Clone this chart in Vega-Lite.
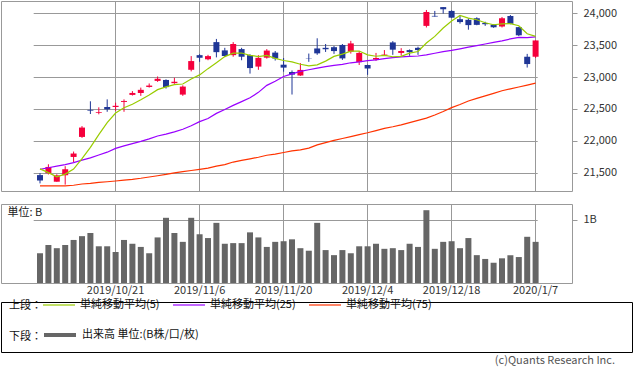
{
  "$schema": "https://vega.github.io/schema/vega-lite/v6.json",
  "padding": 0,
  "background": "white",
  "config": {
    "font": "Noto Sans CJK JP",
    "view": {"stroke": "#999999", "strokeWidth": 1},
    "axis": {"labelFont": "Noto Sans CJK JP", "labelColor": "#333333", "labelFontSize": 11, "gridColor": "#999999", "gridOpacity": 1, "gridWidth": 1, "domain": false, "ticks": false, "title": null},
    "legend": {"labelFont": "Noto Sans CJK JP", "labelFontSize": 11, "labelColor": "#111111", "titleFont": "Noto Sans CJK JP", "titleFontSize": 11, "titleFontWeight": "normal", "titleColor": "#111111", "padding": 0}
  },
  "data": {"values": [
    {"date":"2019/10/7","open":21460,"high":21490,"low":21330,"close":21375,"ma5":21558,"ma25":21551,"ma75":21290,"vol":0.47},
    {"date":"2019/10/8","open":21490,"high":21630,"low":21470,"close":21588,"ma5":21499,"ma25":21575,"ma75":21290,"vol":0.60},
    {"date":"2019/10/9","open":21356,"high":21472,"low":21356,"close":21456,"ma5":21434,"ma25":21600,"ma75":21290,"vol":0.55},
    {"date":"2019/10/10","open":21457,"high":21600,"low":21310,"close":21552,"ma5":21476,"ma25":21625,"ma75":21292,"vol":0.60},
    {"date":"2019/10/11","open":21745,"high":21830,"low":21665,"close":21799,"ma5":21554,"ma25":21655,"ma75":21300,"vol":0.68},
    {"date":"2019/10/15","open":22060,"high":22230,"low":22045,"close":22207,"ma5":21720,"ma25":21695,"ma75":21320,"vol":0.74},
    {"date":"2019/10/16","open":22485,"high":22620,"low":22420,"close":22473,"ma5":21897,"ma25":21730,"ma75":21330,"vol":0.79},
    {"date":"2019/10/17","open":22440,"high":22525,"low":22415,"close":22452,"ma5":22097,"ma25":21775,"ma75":21345,"vol":0.58},
    {"date":"2019/10/18","open":22530,"high":22650,"low":22455,"close":22493,"ma5":22285,"ma25":21820,"ma75":21355,"vol":0.58},
    {"date":"2019/10/21","open":22530,"high":22598,"low":22470,"close":22549,"ma5":22435,"ma25":21880,"ma75":21367,"vol":0.49},
    {"date":"2019/10/23","open":22610,"high":22650,"low":22455,"close":22625,"ma5":22518,"ma25":21920,"ma75":21380,"vol":0.68},
    {"date":"2019/10/24","open":22720,"high":22780,"low":22710,"close":22751,"ma5":22574,"ma25":21955,"ma75":21393,"vol":0.62},
    {"date":"2019/10/25","open":22750,"high":22835,"low":22705,"close":22800,"ma5":22644,"ma25":21990,"ma75":21410,"vol":0.57},
    {"date":"2019/10/28","open":22845,"high":22900,"low":22835,"close":22867,"ma5":22718,"ma25":22030,"ma75":21430,"vol":0.47},
    {"date":"2019/10/29","open":22940,"high":23010,"low":22925,"close":22974,"ma5":22803,"ma25":22075,"ma75":21450,"vol":0.72},
    {"date":"2019/10/30","open":22955,"high":22965,"low":22820,"close":22843,"ma5":22847,"ma25":22105,"ma75":21470,"vol":1.03},
    {"date":"2019/10/31","open":22905,"high":22990,"low":22895,"close":22927,"ma5":22882,"ma25":22140,"ma75":21495,"vol":0.79},
    {"date":"2019/11/1","open":22725,"high":22870,"low":22705,"close":22851,"ma5":22892,"ma25":22180,"ma75":21515,"vol":0.65},
    {"date":"2019/11/5","open":23115,"high":23330,"low":23090,"close":23252,"ma5":22969,"ma25":22235,"ma75":21532,"vol":1.03},
    {"date":"2019/11/6","open":23345,"high":23360,"low":23240,"close":23304,"ma5":23035,"ma25":22300,"ma75":21550,"vol":0.77},
    {"date":"2019/11/7","open":23280,"high":23350,"low":23265,"close":23330,"ma5":23133,"ma25":22350,"ma75":21570,"vol":0.71},
    {"date":"2019/11/8","open":23550,"high":23600,"low":23310,"close":23392,"ma5":23226,"ma25":22430,"ma75":21600,"vol":0.95},
    {"date":"2019/11/11","open":23420,"high":23460,"low":23315,"close":23332,"ma5":23322,"ma25":22490,"ma75":21625,"vol":0.62},
    {"date":"2019/11/12","open":23345,"high":23550,"low":23320,"close":23520,"ma5":23376,"ma25":22555,"ma75":21665,"vol":0.63},
    {"date":"2019/11/13","open":23440,"high":23460,"low":23265,"close":23320,"ma5":23379,"ma25":22615,"ma75":21690,"vol":0.63},
    {"date":"2019/11/14","open":23345,"high":23360,"low":23055,"close":23142,"ma5":23341,"ma25":22675,"ma75":21715,"vol":0.80},
    {"date":"2019/11/15","open":23165,"high":23345,"low":23115,"close":23303,"ma5":23323,"ma25":22760,"ma75":21740,"vol":0.72},
    {"date":"2019/11/18","open":23305,"high":23440,"low":23290,"close":23417,"ma5":23340,"ma25":22870,"ma75":21772,"vol":0.57},
    {"date":"2019/11/19","open":23385,"high":23410,"low":23260,"close":23293,"ma5":23295,"ma25":22935,"ma75":21790,"vol":0.65},
    {"date":"2019/11/20","open":23195,"high":23300,"low":23085,"close":23149,"ma5":23261,"ma25":23010,"ma75":21815,"vol":0.66},
    {"date":"2019/11/21","open":23080,"high":23105,"low":22726,"close":23039,"ma5":23240,"ma25":23050,"ma75":21840,"vol":0.69},
    {"date":"2019/11/22","open":23025,"high":23220,"low":23020,"close":23113,"ma5":23202,"ma25":23090,"ma75":21855,"vol":0.55},
    {"date":"2019/11/25","open":23298,"high":23370,"low":23240,"close":23293,"ma5":23177,"ma25":23115,"ma75":21885,"vol":0.51},
    {"date":"2019/11/26","open":23450,"high":23610,"low":23350,"close":23373,"ma5":23193,"ma25":23140,"ma75":21935,"vol":0.95},
    {"date":"2019/11/27","open":23460,"high":23520,"low":23395,"close":23438,"ma5":23251,"ma25":23165,"ma75":21970,"vol":0.52},
    {"date":"2019/11/28","open":23470,"high":23490,"low":23365,"close":23409,"ma5":23325,"ma25":23185,"ma75":22005,"vol":0.44},
    {"date":"2019/11/29","open":23505,"high":23520,"low":23270,"close":23294,"ma5":23361,"ma25":23200,"ma75":22035,"vol":0.52},
    {"date":"2019/12/2","open":23400,"high":23570,"low":23370,"close":23530,"ma5":23409,"ma25":23225,"ma75":22065,"vol":0.47},
    {"date":"2019/12/3","open":23235,"high":23410,"low":23190,"close":23380,"ma5":23410,"ma25":23240,"ma75":22095,"vol":0.58},
    {"date":"2019/12/4","open":23190,"high":23195,"low":23035,"close":23135,"ma5":23350,"ma25":23258,"ma75":22125,"vol":0.58},
    {"date":"2019/12/5","open":23275,"high":23380,"low":23255,"close":23300,"ma5":23328,"ma25":23272,"ma75":22160,"vol":0.62},
    {"date":"2019/12/6","open":23338,"high":23425,"low":23332,"close":23354,"ma5":23340,"ma25":23290,"ma75":22195,"vol":0.54},
    {"date":"2019/12/9","open":23545,"high":23565,"low":23350,"close":23431,"ma5":23320,"ma25":23305,"ma75":22220,"vol":0.55},
    {"date":"2019/12/10","open":23380,"high":23455,"low":23335,"close":23410,"ma5":23326,"ma25":23318,"ma75":22250,"vol":0.52},
    {"date":"2019/12/11","open":23425,"high":23435,"low":23335,"close":23392,"ma5":23377,"ma25":23325,"ma75":22285,"vol":0.62},
    {"date":"2019/12/12","open":23460,"high":23478,"low":23350,"close":23425,"ma5":23402,"ma25":23332,"ma75":22320,"vol":0.57},
    {"date":"2019/12/13","open":23805,"high":24055,"low":23780,"close":24023,"ma5":23536,"ma25":23350,"ma75":22355,"vol":1.15},
    {"date":"2019/12/16","open":23962,"high":24040,"low":23950,"close":23952,"ma5":23640,"ma25":23375,"ma75":22405,"vol":0.54},
    {"date":"2019/12/17","open":24100,"high":24100,"low":23998,"close":24066,"ma5":23772,"ma25":23400,"ma75":22460,"vol":0.65},
    {"date":"2019/12/18","open":24040,"high":24050,"low":23930,"close":23934,"ma5":23880,"ma25":23420,"ma75":22520,"vol":0.66},
    {"date":"2019/12/19","open":23910,"high":23960,"low":23840,"close":23865,"ma5":23968,"ma25":23445,"ma75":22570,"vol":0.55},
    {"date":"2019/12/20","open":23900,"high":23925,"low":23745,"close":23817,"ma5":23927,"ma25":23470,"ma75":22625,"vol":0.71},
    {"date":"2019/12/23","open":23925,"high":23940,"low":23815,"close":23821,"ma5":23901,"ma25":23495,"ma75":22665,"vol":0.44},
    {"date":"2019/12/24","open":23850,"high":23870,"low":23805,"close":23831,"ma5":23854,"ma25":23520,"ma75":22705,"vol":0.38},
    {"date":"2019/12/25","open":23825,"high":23828,"low":23775,"close":23783,"ma5":23823,"ma25":23545,"ma75":22745,"vol":0.32},
    {"date":"2019/12/26","open":23795,"high":23945,"low":23780,"close":23925,"ma5":23835,"ma25":23570,"ma75":22785,"vol":0.39},
    {"date":"2019/12/27","open":23960,"high":23975,"low":23830,"close":23838,"ma5":23840,"ma25":23600,"ma75":22815,"vol":0.44},
    {"date":"2019/12/30","open":23785,"high":23790,"low":23645,"close":23657,"ma5":23807,"ma25":23625,"ma75":22845,"vol":0.41},
    {"date":"2020/1/6","open":23320,"high":23365,"low":23150,"close":23205,"ma5":23682,"ma25":23620,"ma75":22875,"vol":0.73},
    {"date":"2020/1/7","open":23320,"high":23578,"low":23300,"close":23576,"ma5":23640,"ma25":23632,"ma75":22905,"vol":0.65}
  ]},
  "spacing": 5,
  "vconcat": [
    {
      "spacing": 11,
      "resolve": {"scale": {"x": "independent", "y": "independent"}, "axis": {"x": "independent", "y": "independent"}},
      "vconcat": [
        {
          "width": 571,
          "height": 190,
          "encoding": {
            "x": {"field": "date", "type": "ordinal", "sort": null, "scale": {"type": "band", "paddingInner": 0, "paddingOuter": 0, "range": [34.8, 538.8]},
                  "axis": {"values": ["2019/10/21","2019/11/6","2019/11/20","2019/12/4","2019/12/18","2020/1/7"], "labels": false, "grid": true, "ticks": false, "domain": false, "title": null}}
          },
          "layer": [
            {
              "mark": {"type": "rule", "strokeWidth": 1},
              "encoding": {
                "y": {"field": "low", "type": "quantitative", "scale": {"domain": [21210, 24196], "nice": false, "zero": false},
                      "axis": {"orient": "right", "values": [21500, 22000, 22500, 23000, 23500, 24000], "tickCount": 20, "labelExpr": "format(datum.value, ',')", "labelOverlap": false, "grid": true, "ticks": true, "tickSize": 5, "tickColor": "#999999", "labelPadding": 6, "title": null}},
                "y2": {"field": "high"},
                "color": {"condition": {"test": "datum.close >= datum.open", "value": "#f5003c"}, "value": "#1f3696"}
              }
            },
            {
              "mark": {"type": "bar", "size": 6},
              "encoding": {
                "y": {"field": "open", "type": "quantitative"},
                "y2": {"field": "close"},
                "color": {"condition": {"test": "datum.close >= datum.open", "value": "#f5003c"}, "value": "#1f3696"}
              }
            },
            {
              "mark": {"type": "line", "strokeWidth": 1.2},
              "encoding": {
                "y": {"field": "ma75", "type": "quantitative"},
                "stroke": {"datum": "単純移動平均(75)",
                  "scale": {"domain": ["単純移動平均(5)", "単純移動平均(25)", "単純移動平均(75)"], "range": ["#99cc00", "#9900ff", "#ff3300"]},
                  "legend": {"orient": "none", "legendX": 8, "legendY": 287, "direction": "horizontal", "title": "上段：", "titleOrient": "left", "titleAnchor": "middle", "titleBaseline": "middle", "titlePadding": 0, "symbolType": "stroke", "symbolSize": 1024, "symbolStrokeWidth": 1.2, "labelOffset": 4, "columnPadding": 10,
                    "encode": {"title": {"update": {"dy": {"value": 7}}}}}}
              }
            },
            {
              "mark": {"type": "line", "strokeWidth": 1.2},
              "encoding": {
                "y": {"field": "ma25", "type": "quantitative"},
                "stroke": {"datum": "単純移動平均(25)"}
              }
            },
            {
              "mark": {"type": "line", "strokeWidth": 1.2},
              "encoding": {
                "y": {"field": "ma5", "type": "quantitative"},
                "stroke": {"datum": "単純移動平均(5)"}
              }
            }
          ]
        },
        {
          "width": 571,
          "height": 79,
          "mark": {"type": "bar", "size": 6},
          "encoding": {
            "x": {"field": "date", "type": "ordinal", "sort": null, "scale": {"type": "band", "paddingInner": 0, "paddingOuter": 0, "range": [34.8, 538.8]},
                  "axis": {"values": ["2019/10/21","2019/11/6","2019/11/20","2019/12/4","2019/12/18","2020/1/7"], "labels": true, "labelAngle": 0, "grid": true, "ticks": false, "domain": false, "labelPadding": 1, "title": null}},
            "y": {"field": "vol", "type": "quantitative", "scale": {"domain": [0, 1.248], "nice": false, "zero": true},
                  "axis": {"orient": "right", "values": [1], "tickCount": 10, "labelExpr": "'1B'", "grid": true, "ticks": true, "tickSize": 5, "tickColor": "#999999", "labelPadding": 6,
                           "title": "単位: B", "titleAngle": 0, "titleX": -565, "titleY": 8, "titleAlign": "left", "titleBaseline": "middle", "titleFontWeight": "normal", "titleFontSize": 11, "titleColor": "#222222", "titleFont": "Noto Sans CJK JP"}},
            "fill": {"datum": "出来高 単位:(B株/口/枚)", "scale": {"range": ["#666666"]},
              "legend": {"orient": "none", "legendX": 8, "legendY": 316, "direction": "horizontal", "title": "下段：", "titleOrient": "left", "titleAnchor": "middle", "titleBaseline": "middle", "titlePadding": 0, "symbolType": "stroke", "symbolSize": 1024, "symbolStrokeWidth": 4, "symbolStrokeColor": "#666666", "labelOffset": 4,
                "encode": {"symbols": {"update": {"stroke": {"value": "#666666"}, "strokeWidth": {"value": 4}}}, "title": {"update": {"dy": {"value": 7}}}}}}
          }
        }
      ]
    },
    {
      "width": 631,
      "height": 50,
      "view": {"stroke": "#000000", "strokeWidth": 1},
      "data": {"values": []},
      "mark": {"type": "rule"},
      "encoding": {},
      "title": {"text": "(c)Quants Research Inc.", "orient": "bottom", "anchor": "end", "fontSize": 11, "fontWeight": "normal", "color": "#555555", "offset": 3, "dx": -17, "font": "Noto Sans CJK JP"}
    }
  ]
}
